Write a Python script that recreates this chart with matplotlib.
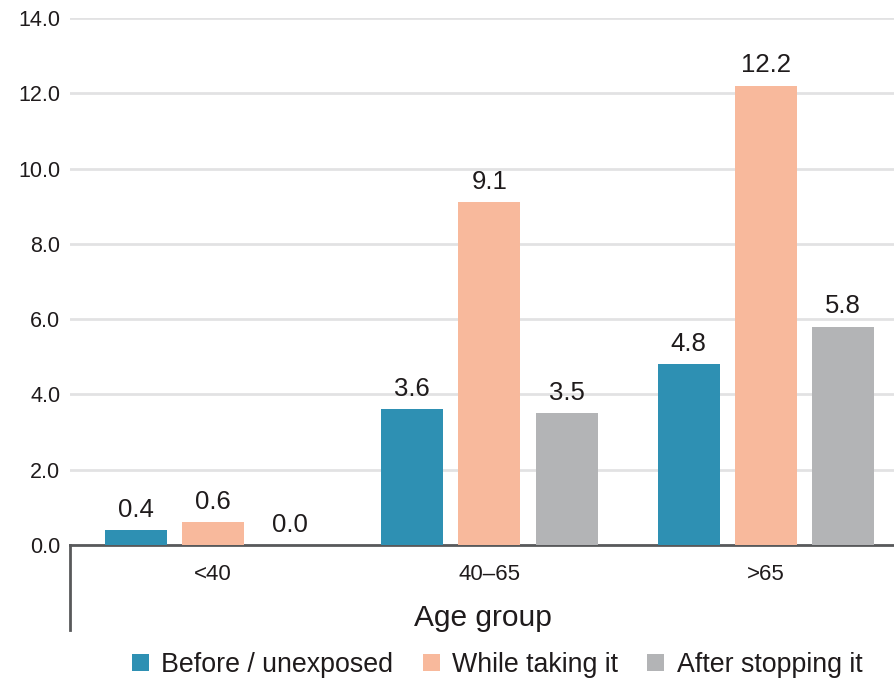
import matplotlib
matplotlib.use("Agg")
import matplotlib.pyplot as plt
import numpy as np
from matplotlib.patches import Patch

# data
groups = ["<40", "40\u201365", ">65"]
before = [0.4, 3.6, 4.8]
while_taking = [0.6, 9.1, 12.2]
after = [0.0, 3.5, 5.8]
series_names = ["Before / unexposed", "While taking it", "After stopping it"]
yticks = [0, 2, 4, 6, 8, 10, 12, 14]

colors = ["#2E90B3", "#F8B99C", "#B3B4B6"]
txt = "#1F1B1C"

plt.rcParams['font.family'] = ['Liberation Sans', 'DejaVu Sans']

fig = plt.figure(figsize=(8.95, 6.81), dpi=100)
ax = fig.add_axes([70/895, 1 - 545/681, 1 - 70/895, (545 - 18)/681])

x = np.arange(len(groups))
w = 0.224
step = 0.279
for i, (vals, c) in enumerate(zip([before, while_taking, after], colors)):
    pos = x + (i - 1) * step
    bars = ax.bar(pos, vals, width=w, color=c, zorder=3)
    for xp, v in zip(pos, vals):
        ax.text(xp, v + 0.22, "{:.1f}".format(v), ha="center", va="bottom",
                fontsize=18.5, color=txt, zorder=4)

ax.set_xlim(-0.517, 2.467)
ax.set_ylim(0, 14)
ax.set_yticks(yticks)
ax.set_yticklabels(["{:.1f}".format(t) for t in yticks])
ax.set_xticks(x)
ax.set_xticklabels(groups)
ax.tick_params(axis="y", length=0, pad=7, labelsize=15.5, labelcolor=txt)
ax.tick_params(axis="x", length=0, pad=14, labelsize=16, labelcolor=txt)

ax.yaxis.grid(True, color="#E2E2E3", linewidth=2, zorder=0)
ax.set_axisbelow(True)
for s in ["top", "right", "left"]:
    ax.spines[s].set_visible(False)
ax.spines["bottom"].set_color("#58595B")
ax.spines["bottom"].set_linewidth(2)

# short vertical rule below the axis on the left
ax.plot([0, 0], [0, -85/527], transform=ax.transAxes, color="#58595B",
        linewidth=2, clip_on=False)

ax.set_xlabel("Age group", fontsize=21.5, color=txt, labelpad=13)

handles = [Patch(facecolor=c, edgecolor="none") for c in colors]
fig.legend(handles, series_names, loc="center", bbox_to_anchor=(497/895, 1 - 665/681),
           ncol=3, frameon=False, fontsize=19.3, handlelength=0.64, handleheight=0.64,
           handletextpad=0.45, columnspacing=1.1, borderpad=0, labelcolor=txt)

fig.savefig("out.png", dpi=100)
